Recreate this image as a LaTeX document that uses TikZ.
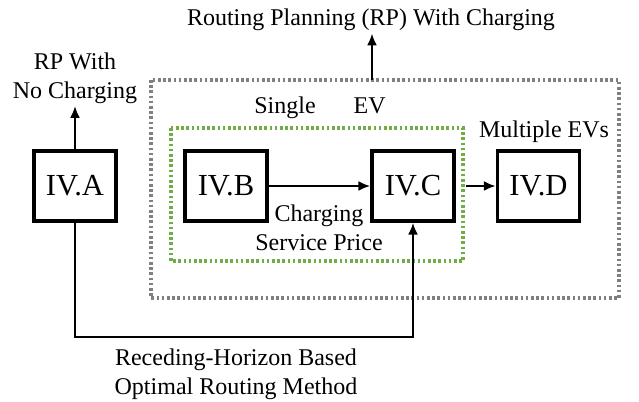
\documentclass[tikz,border=0pt]{standalone}
\usepackage{fontspec}
\setmainfont{Liberation Serif}
\usetikzlibrary{arrows.meta}

\definecolor{dotgray}{RGB}{128,128,128}
\definecolor{dotgreen}{RGB}{112,173,71}

\tikzset{
    secbox/.style={draw, line width=1.6pt, minimum width=41pt, minimum height=35pt,
        inner sep=0pt, font=\fontsize{15.3}{18}\selectfont},
    lbl/.style={font=\fontsize{12}{14.5}\selectfont, align=center, inner sep=1pt},
    flow/.style={line width=1.4pt, -{Latex[length=6pt, width=5pt]}},
    dotbox/.style={line width=1.6pt, dash pattern=on 1.3pt off 1.3pt}
}

\begin{document}
\begin{tikzpicture}[x=0.5pt, y=-0.5pt]
    \useasboundingbox (0,0) rectangle (639,402);

    % Outer frame: routing planning with charging
    \draw[dotbox, dotgray] (151,80) rectangle (619,298);
    \coordinate (rptop) at (372,80);

    % Inner frame: single EV
    \draw[dotbox, dotgreen] (171,128) rectangle (463,261);

    % Section boxes
    \node[secbox] (ivA) at (75,186) {IV.A};
    \node[secbox] (ivB) at (226,186) {IV.B};
    \node[secbox] (ivC) at (413,186) {IV.C};
    \node[secbox] (ivD) at (538.5,186) {IV.D};

    % Labels
    \node[lbl] (rpc) at (371,20) {Routing Planning (RP) With Charging};
    \node[lbl] (rpn) at (75,78) {RP With\\No Charging};
    \node[lbl] (single) at (320,108) {Single\hspace{19pt}EV};
    \node[lbl] (multi) at (544,132) {Multiple EVs};
    \node[lbl] (price) at (319,228) {Charging\\Service Price};
    \node[lbl] (rhor) at (236,374) {Receding-Horizon Based\\Optimal Routing Method};

    % Arrows
    \draw[flow] (rptop) -- (rptop |- rpc.south);
    \draw[flow] (ivA.north) -- (rpn.south);
    \draw[flow] (ivB) -- (ivC);
    \draw[flow, shorten <=5pt] (ivC) -- (ivD);
    \coordinate (route) at (244,337);
    \draw[flow] (ivA.south) |- (route) -| (ivC.south);
\end{tikzpicture}
\end{document}
